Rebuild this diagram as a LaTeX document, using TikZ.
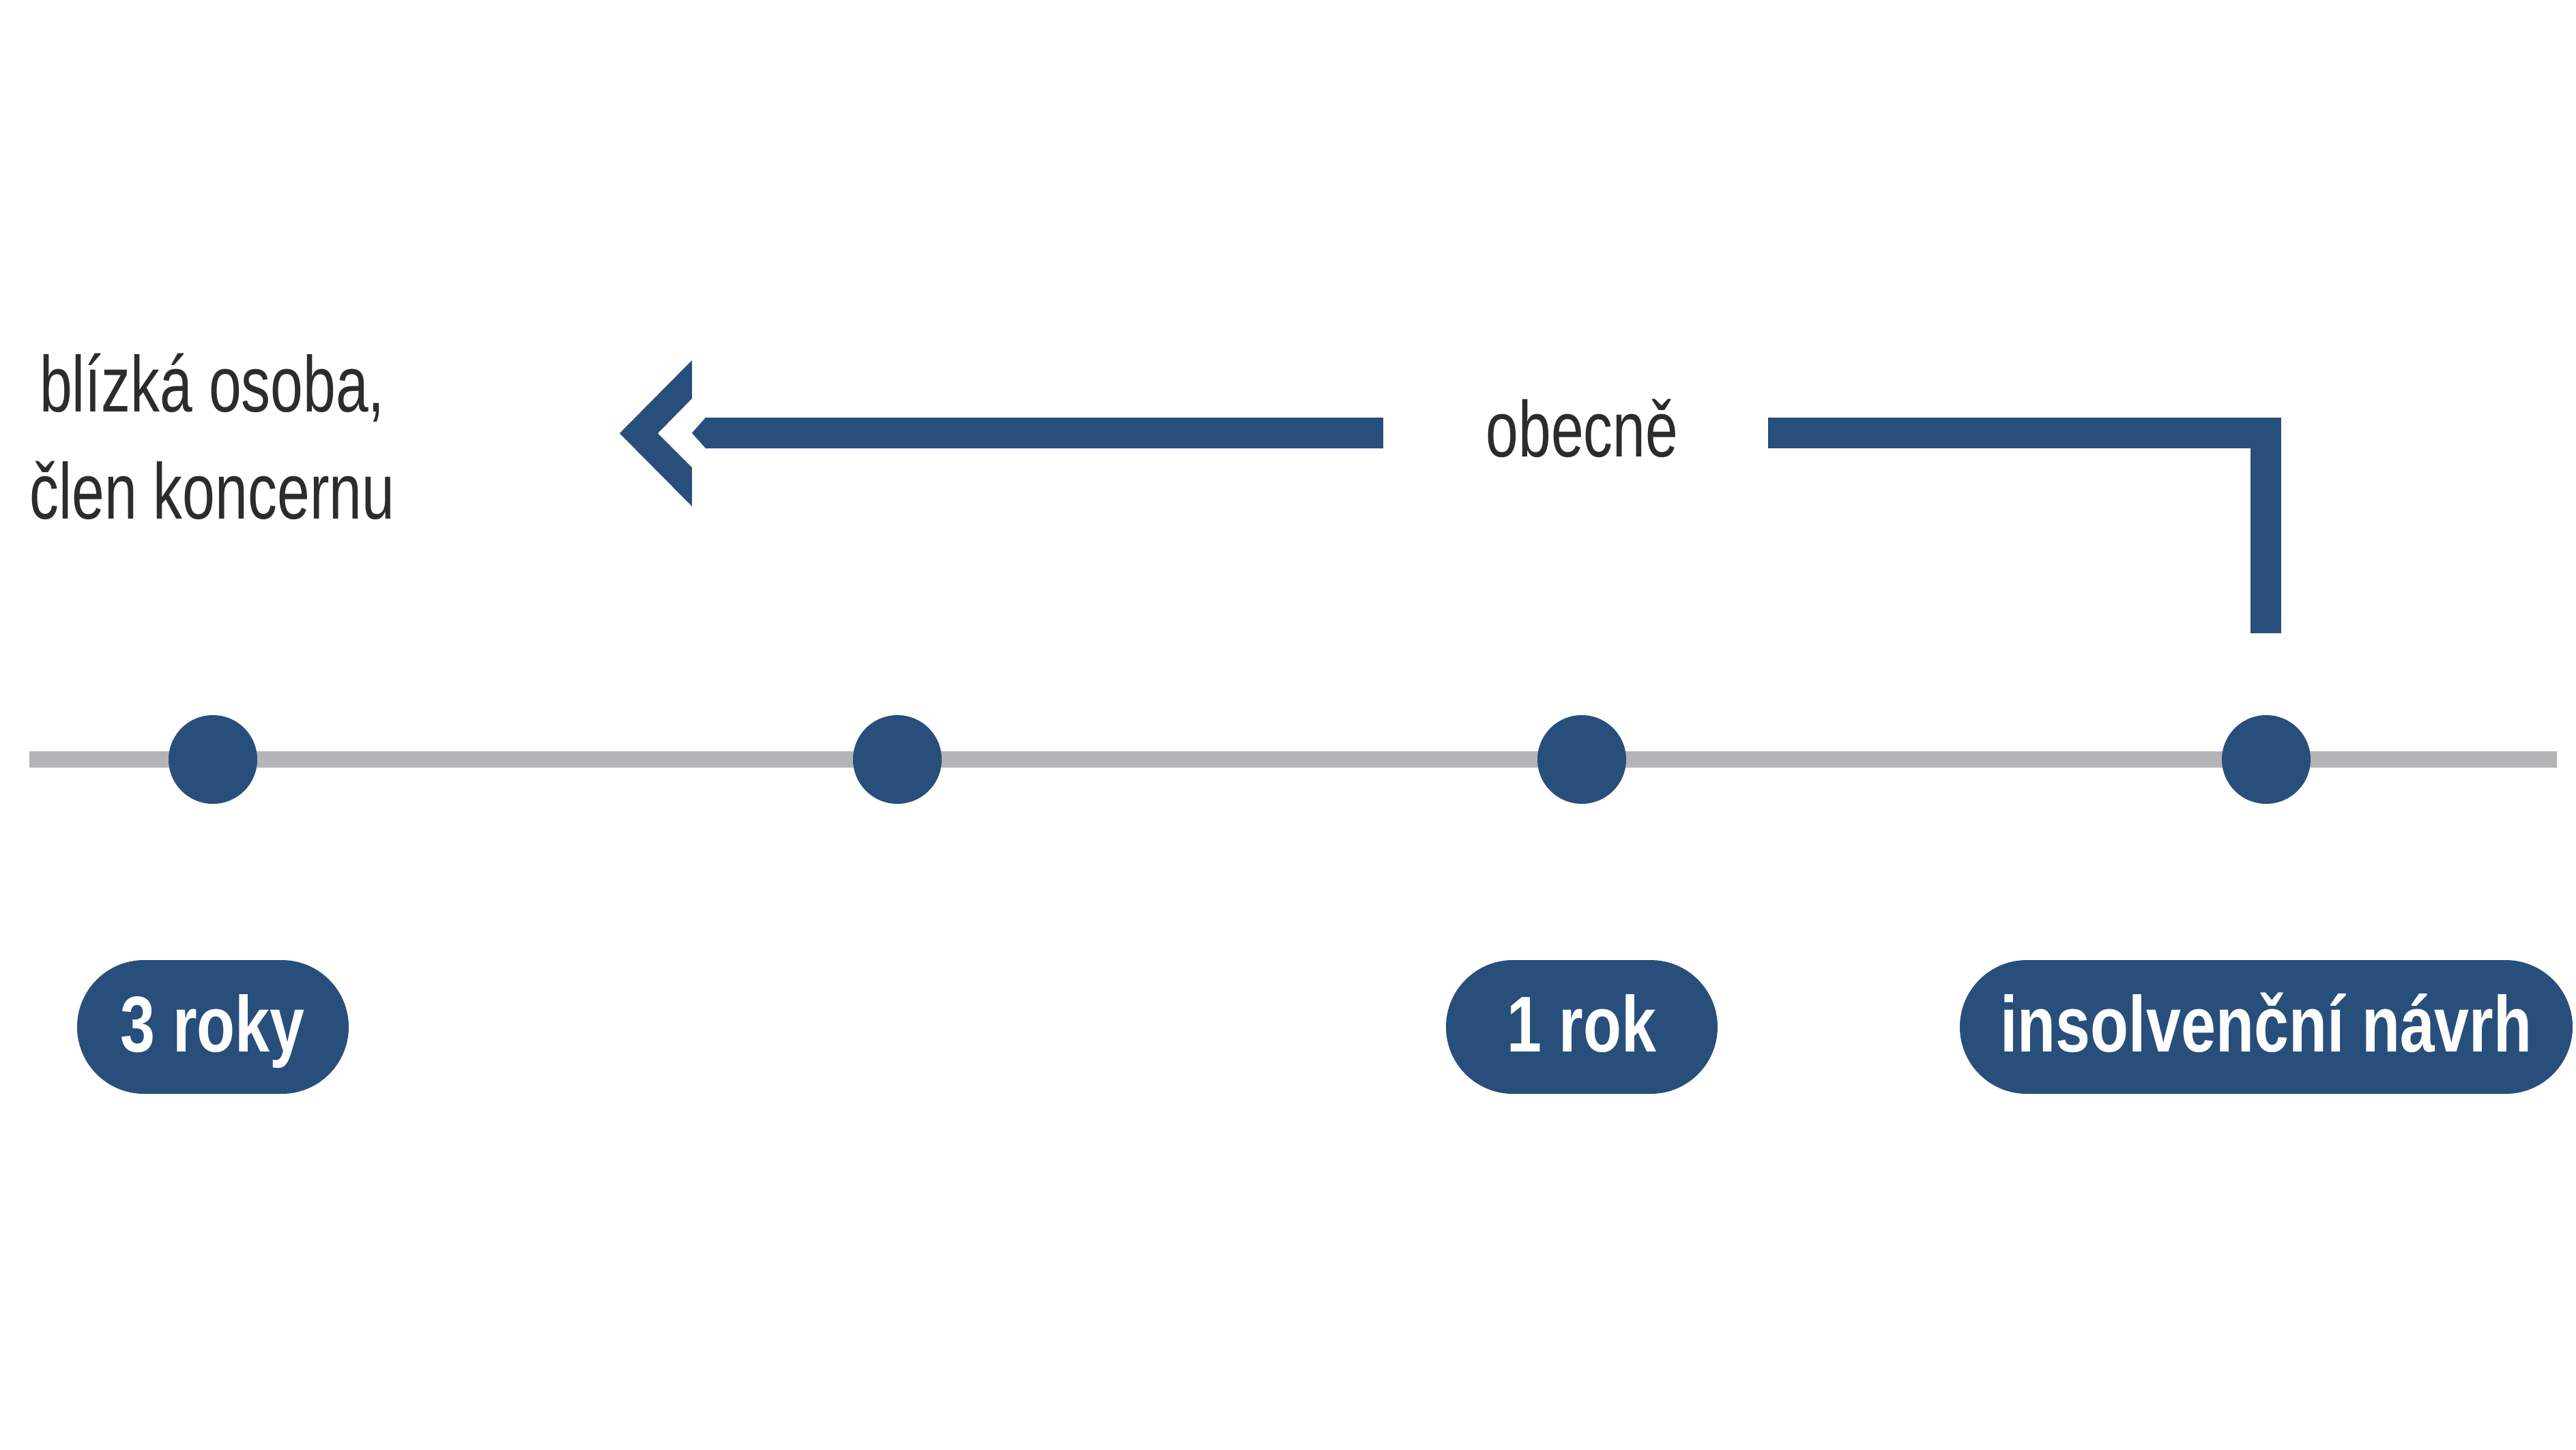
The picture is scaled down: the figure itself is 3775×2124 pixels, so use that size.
\documentclass[tikz,border=0pt]{standalone}
\usepackage{fontspec}
\setmainfont{Liberation Sans}
\newfontfamily\condfont[FakeStretch=0.74,BoldFeatures={FakeStretch=0.79}]{Liberation Sans}
\definecolor{tlblue}{RGB}{40,79,123}
\definecolor{tlgrey}{RGB}{179,180,182}
\definecolor{tltext}{RGB}{45,43,46}
\begin{document}
\begin{tikzpicture}[x=0.2pt,y=-0.2pt,
  dotnode/.style={circle, fill=tlblue, minimum size=26pt, inner sep=0pt},
  pillnode/.style={rectangle, rounded corners=19.6pt, fill=tlblue, minimum height=39.2pt,
    inner sep=0pt, text=white, text height=16pt, text depth=1.6pt,
    font=\condfont\bfseries\fontsize{23.2}{28}\selectfont},
  labeltext/.style={text=tltext, inner sep=0pt, anchor=base,
    font=\condfont\fontsize{23.2}{28}\selectfont},
  timeline/.style={draw=tlgrey, line width=4.8pt},
  arrowpart/.style={fill=tlblue, draw=none},
  bracket/.style={draw=tlblue, line width=9pt, line join=miter}
]
\useasboundingbox (0,0) rectangle (3775,2124);
\fill[white] (0,0) rectangle (3775,2124);

% timeline
\coordinate (tlstart) at (43,1113);
\coordinate (tlend) at (3747,1113);
\draw[timeline] (tlstart) -- (tlend);

% dots
\node[dotnode] (d1) at (312,1113) {};
\node[dotnode] (d2) at (1315,1113) {};
\node[dotnode] (d3) at (2318,1113) {};
\node[dotnode] (d4) at (3321,1113) {};

% pills
\node[pillnode, minimum width=79.6pt] (p1) at (312,1505) {3 roky};
\node[pillnode, minimum width=79.6pt] (p3) at (2318,1505) {1 rok};
\node[pillnode, minimum width=179.6pt] (p4) at (3321,1505) {insolvenční návrh};

% left label
\node[labeltext] (lab1) at (311,603) {blízká osoba,};
\node[labeltext] (lab2) at (311,760) {člen koncernu};

% obecne label
\node[labeltext] (obecne) at (2318.5,669) {obecně};

% arrow shaft with pointed end
\coordinate (shaftR) at (2027,634.5);
\coordinate (shaftL) at (1014,634.5);
\fill[arrowpart] (2027,612) -- (1034,612) -- (shaftL) -- (1034,657) -- (2027,657) -- cycle;

% chevron head
\coordinate (tip) at (908,635);
\fill[arrowpart] (1014,528) -- (tip) -- (1014,742) -- (1014,685) -- (964,635) -- (1014,584) -- cycle;

% right bracket
\coordinate (brL) at (2591,634.5);
\coordinate (brC) at (3320.5,634.5);
\coordinate (brB) at (3320.5,928);
\draw[bracket] (brL) -- (brC) -- (brB);
\end{tikzpicture}
\end{document}
